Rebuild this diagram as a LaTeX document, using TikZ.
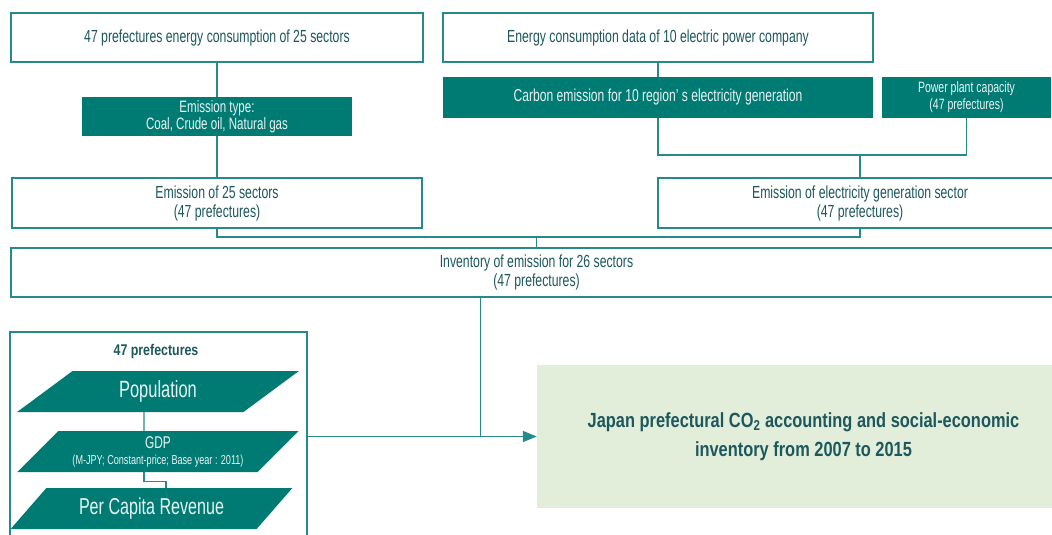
\documentclass[tikz,border=0pt]{standalone}
\usepackage{fontspec}
\setmainfont{Liberation Sans}[FakeStretch=0.7, BoldFeatures={FakeStretch=0.8}]
\usetikzlibrary{shapes.geometric,arrows.meta}

\definecolor{tealfill}{RGB}{0,123,116}
\definecolor{tealline}{RGB}{38,138,138}
\definecolor{tealtext}{RGB}{28,88,94}
\definecolor{palegreen}{RGB}{226,238,217}
\definecolor{lighttext}{RGB}{232,244,242}

\begin{document}
\begin{tikzpicture}[x=1pt,y=-1pt]
    \tikzstyle{every node}=[font=\fontsize{17.5}{19}\selectfont, align=center]
    \tikzstyle{outbox}=[rectangle, draw=tealline, line width=1.5pt, fill=white, text=tealtext]
    \tikzstyle{fillbox}=[rectangle, fill=tealfill, text=lighttext, font=\fontsize{16.5}{17}\selectfont]
    \tikzstyle{slantbox}=[trapezium, trapezium left angle=41, trapezium right angle=139, trapezium stretches=true, fill=tealfill, text=lighttext, minimum width=282pt, minimum height=41pt, inner sep=0pt]
    \tikzstyle{link}=[draw=tealline, line width=1.5pt]

    \useasboundingbox (0,0) rectangle (1052,535);
    \clip (0,0) rectangle (1052,535);

    \node[outbox, minimum width=412pt, minimum height=49pt] (energy) at (217,37.5) {47 prefectures energy consumption of 25 sectors};
    \node[outbox, minimum width=430pt, minimum height=49pt] (power) at (658,37.5) {Energy consumption data of 10 electric power company};
    \node[fillbox, minimum width=270pt, minimum height=39pt] (etype) at (217,116.5) {Emission type:\\Coal, Crude oil, Natural gas};
    \node[fillbox, minimum width=430pt, minimum height=41pt, font=\fontsize{17.3}{19}\selectfont] (carbon) at (658,97.5) {Carbon emission for 10 region’ s electricity generation};
    \node[fillbox, minimum width=169pt, minimum height=41pt, font=\fontsize{15}{17}\selectfont] (capacity) at (966.5,97.5) {Power plant capacity\\(47 prefectures)};
    \node[outbox, minimum width=410pt, minimum height=50pt] (sector) at (217,203) {Emission of 25 sectors\\(47 prefectures)};
    \node[outbox, minimum width=404pt, minimum height=50pt] (elec) at (860,203) {Emission of electricity generation sector\\(47 prefectures)};
    \node[outbox, minimum width=1051pt, minimum height=49pt] (inventory) at (536.5,272.5) {Inventory of emission for 26 sectors\\(47 prefectures)};

    \node[outbox, minimum width=297pt, minimum height=228pt] (prefbox) at (158.5,446) {};
    \node[text=tealtext, font=\bfseries\fontsize{15.5}{16}\selectfont] (preftitle) at (156,351) {47 prefectures};
    \node[slantbox, font=\fontsize{23.5}{24}\selectfont] (pop) at (158,391.5) {Population};
    \node[slantbox, font=\fontsize{17}{17}\selectfont] (gdp) at (158,451.5) {GDP\\[-1pt]{\fontsize{13}{14}\selectfont (M-JPY; Constant-price; Base year : 2011)}};
    \node[slantbox, font=\fontsize{23}{24}\selectfont] (pcr) at (151.5,508.5) {Per Capita Revenue};

    \node[rectangle, fill=palegreen, minimum width=533pt, minimum height=143pt, text=tealtext, font=\bfseries\fontsize{20.5}{29}\selectfont] (result) at (803.5,436.5) {Japan prefectural CO\textsubscript{2} accounting and social-economic\\inventory from 2007 to 2015};

    \draw[link] (energy) -- (etype);
    \draw[link] (etype) -- (sector);
    \draw[link] (power) -- (carbon);
    \draw[link] (carbon.south) -- ++(0,37) coordinate (genjoin) -| (capacity.south);
    \draw[link] (elec.north) -- (elec.north |- genjoin);
    \draw[link] (sector.south) -- ++(0,8) coordinate (invjoin) -| (elec.south);
    \draw[link] (inventory.north) -- (inventory.north |- invjoin);
    \draw[link] ([xshift=-56pt]inventory.south) -- ([xshift=-56pt]inventory.south |- result.west);
    \draw[link, -{Triangle[length=14pt,width=11pt]}] (prefbox.east |- result.west) -- (result.west);
    \draw[link, line width=1.2pt] ([xshift=-14pt]pop.south) -- ([xshift=-14pt]gdp.north);
    \draw[link, line width=1.2pt] ([xshift=-14pt]gdp.south) -- ++(0,9) -| ([xshift=14.5pt]pcr.north);
\end{tikzpicture}
\end{document}
